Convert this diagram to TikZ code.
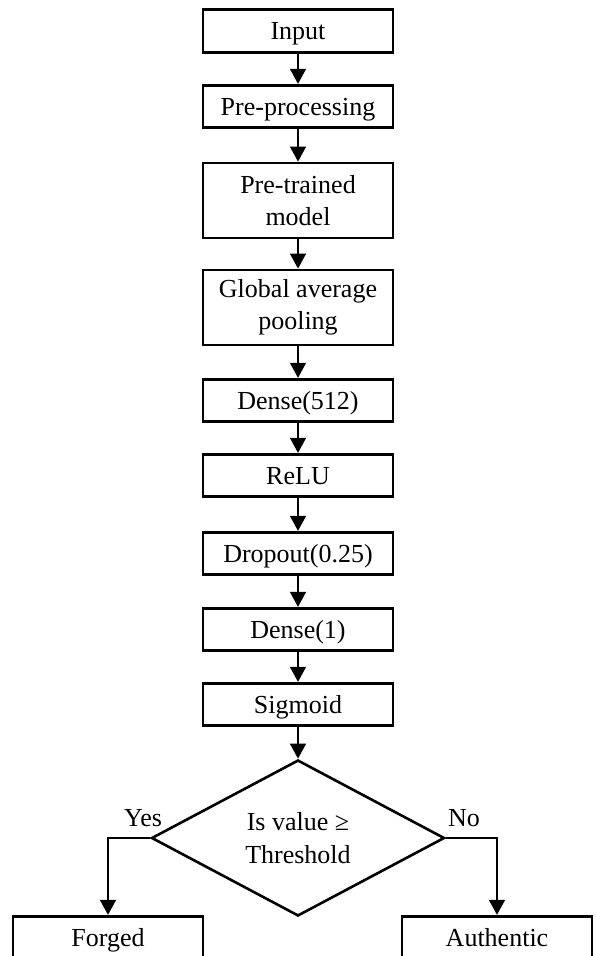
\documentclass[tikz,border=0pt]{standalone}
\usepackage{fontspec}
\setmainfont{Liberation Serif}
\usetikzlibrary{arrows.meta,shapes.geometric}
\begin{document}
\begin{tikzpicture}[x=1pt,y=-1pt,
  every node/.style={font=\fontsize{26}{32.5}\selectfont},
  stepbox/.style={draw,line width=2.6pt,minimum width=190pt,inner sep=0pt,align=center},
  onebox/.style={stepbox,minimum height=42.5pt,text height=17pt,text depth=0pt},
  twobox/.style={stepbox,minimum height=75pt},
  decision/.style={draw,line width=2.6pt,diamond,aspect=1.878,minimum width=293pt,minimum height=156pt,inner sep=0pt,align=center},
  flow/.style={line width=2.6pt,-{Triangle[width=15.5pt,length=15pt]}},
  tag/.style={inner sep=0pt,text height=17pt,text depth=0pt}
]
\useasboundingbox (0,0) rectangle (595,956);

% main pipeline
\node[onebox] (input) at (298,31)    {Input};
\node[onebox] (pre)   at (298,106.5) {Pre-processing};
\node[twobox] (model) at (298,200.5) {Pre-trained\\model};
\node[twobox] (gap)   at (298,307.5) {Global average\\pooling};
\node[onebox] (d512)  at (298,400.5) {Dense(512)};
\node[onebox] (relu)  at (298,475.5) {ReLU};
\node[onebox] (drop)  at (298,553.5) {Dropout(0.25)};
\node[onebox] (d1)    at (298,629.5) {Dense(1)};
\node[onebox] (sig)   at (298,704.5) {Sigmoid};

% decision and outcomes
\node[decision] (dec) at (298,838) {Is value ≥\\Threshold};
\node[onebox] (forged) at (108,937.5) {Forged};
\node[onebox] (auth)   at (497,937.5) {Authentic};

\node[tag] (yes) at (143,818) {Yes};
\node[tag] (no)  at (464,818) {No};

% connectors
\draw[flow] (input) -- (pre);
\draw[flow] (pre) -- (model);
\draw[flow] (model) -- (gap);
\draw[flow] (gap) -- (d512);
\draw[flow] (d512) -- (relu);
\draw[flow] (relu) -- (drop);
\draw[flow] (drop) -- (d1);
\draw[flow] (d1) -- (sig);
\draw[flow] (sig) -- (dec.north);
\draw[flow] (dec.west) -| (forged.north);
\draw[flow] (dec.east) -| (auth.north);
\end{tikzpicture}
\end{document}
